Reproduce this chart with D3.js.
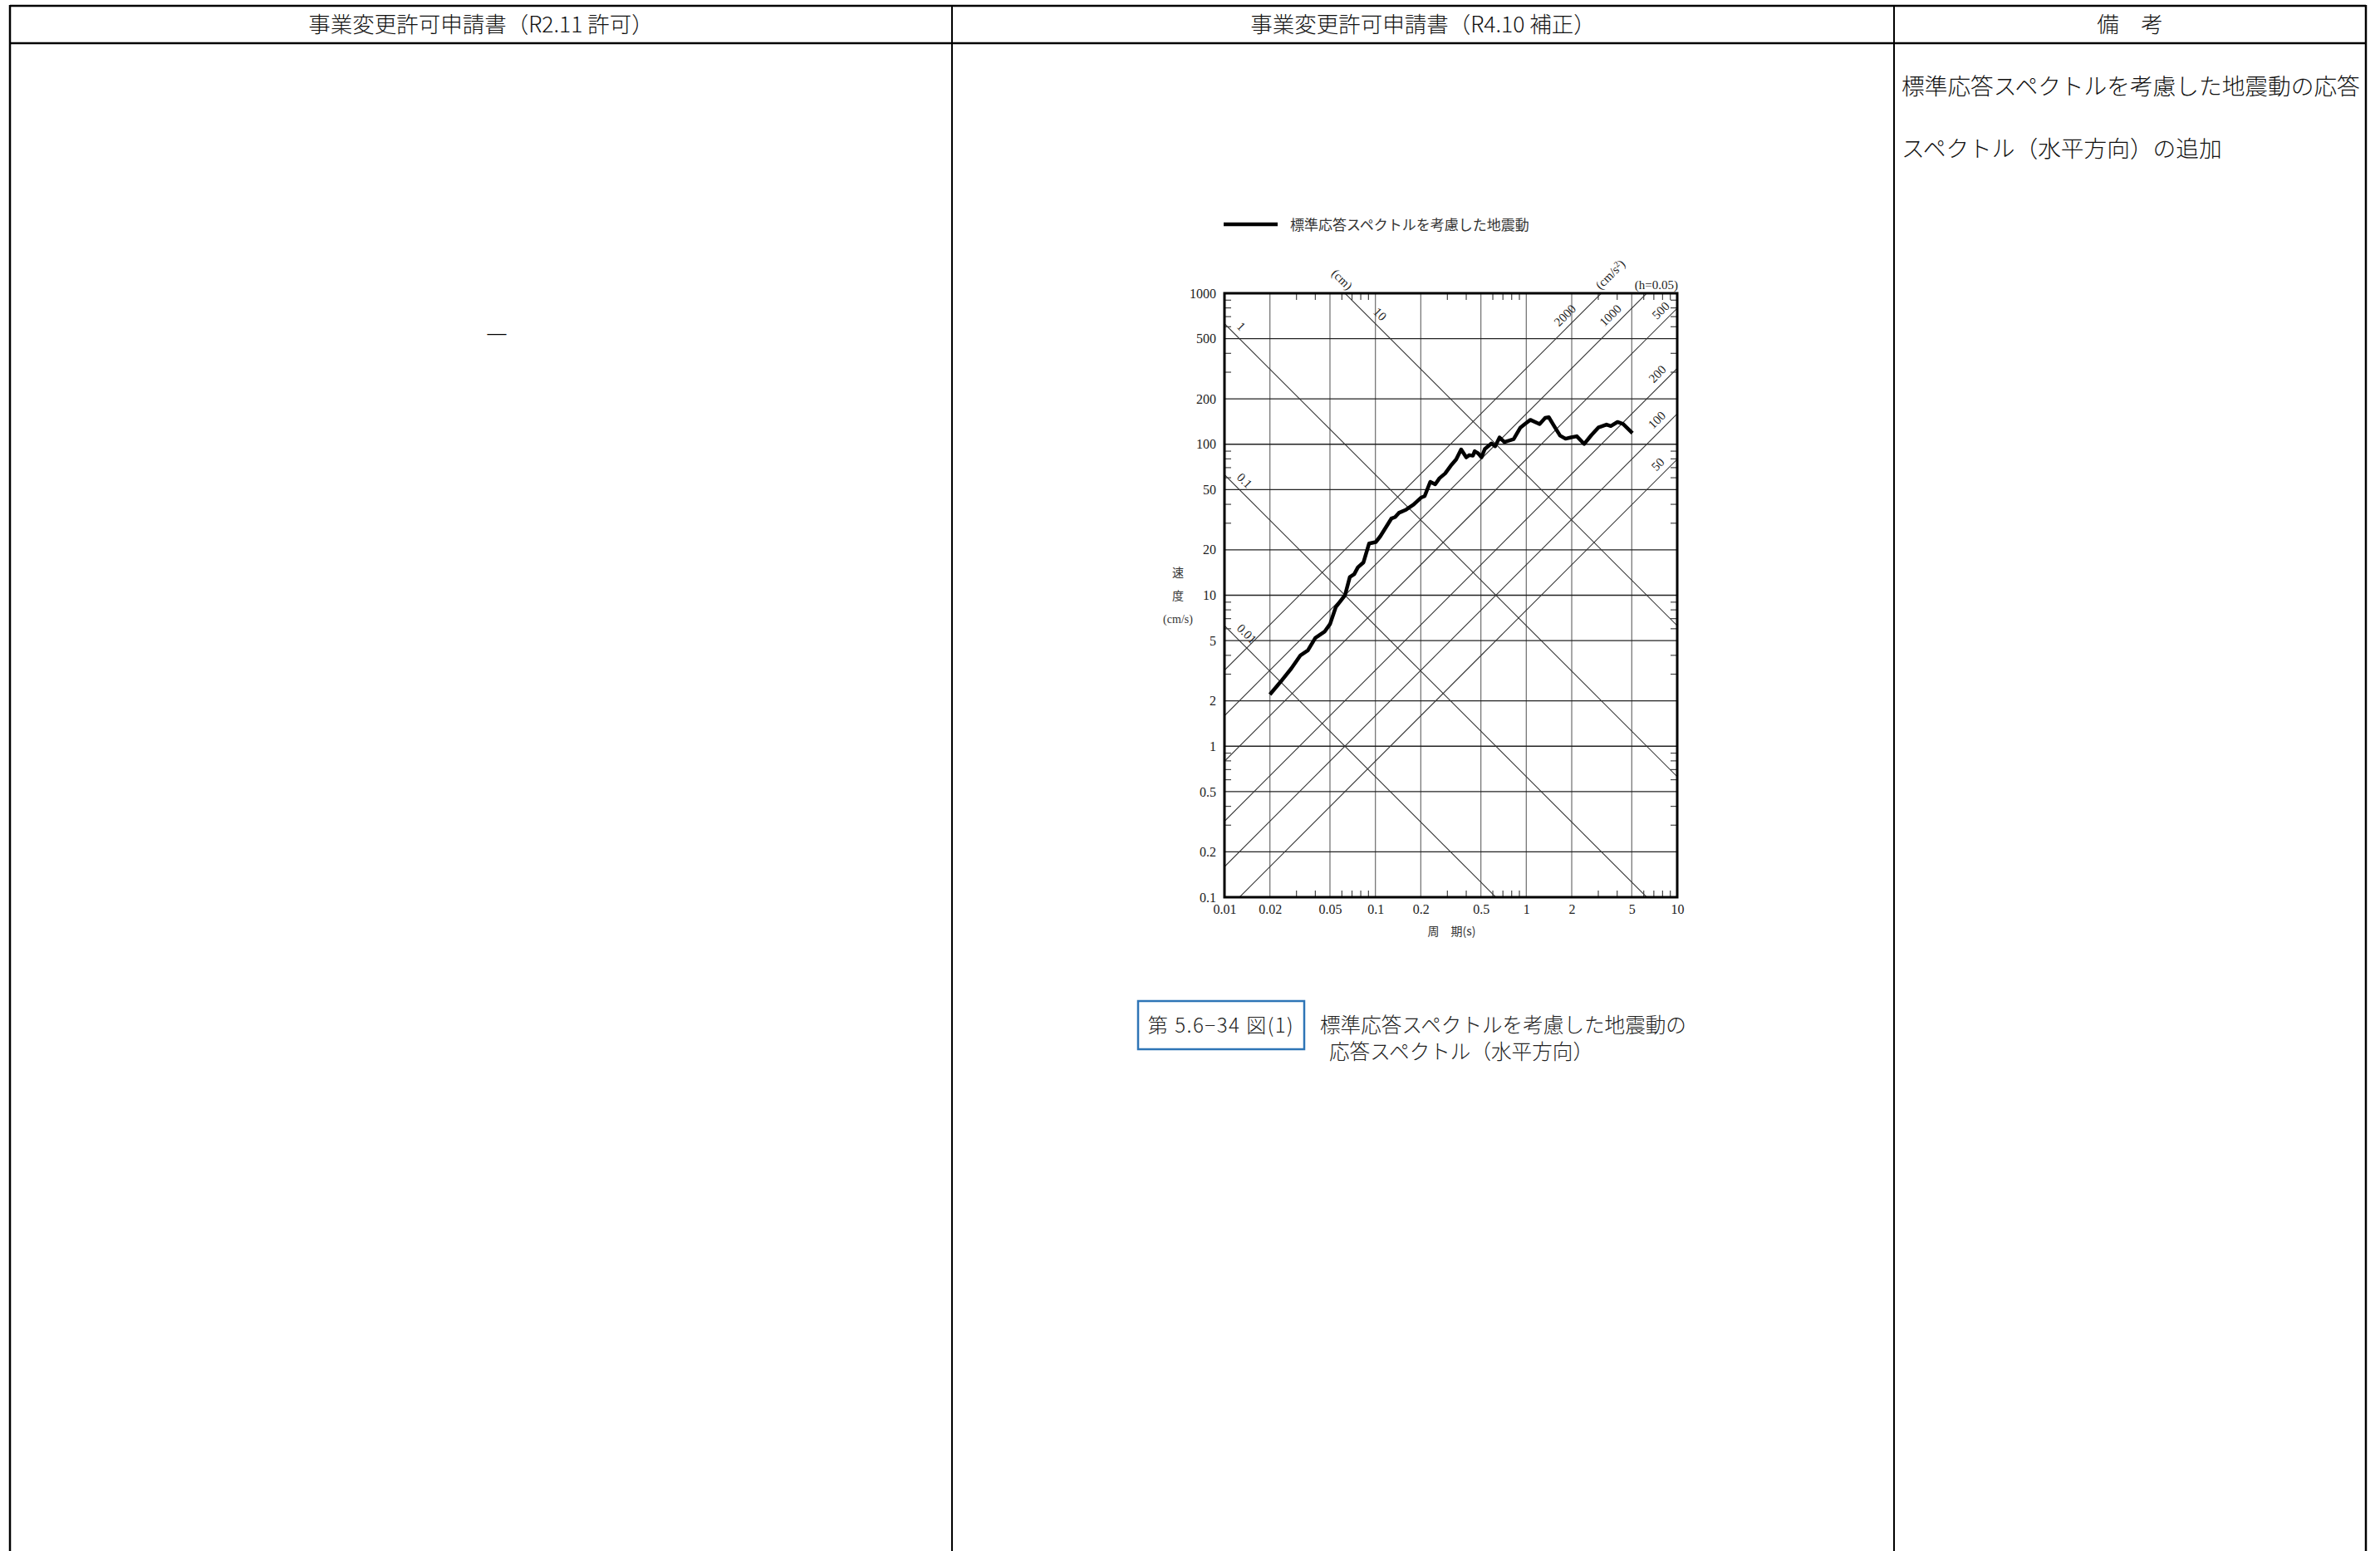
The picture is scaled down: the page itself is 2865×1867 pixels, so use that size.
<!DOCTYPE html>
<html>
<head>
<meta charset="utf-8">
<script src="https://cdn.jsdelivr.net/npm/d3@7"></script>
<style>
    body { margin: 0; background: #fff; }
    svg { display: block; }
    .cjk { font-family: "Noto Sans CJK JP", sans-serif; }
    .num { font-family: "Liberation Serif", serif; }
</style>
</head>
<body>
<svg id="page" width="2865" height="1867"></svg>
<script>
// ---- data ----
var periods = [0.02, 0.0234, 0.0277, 0.0319, 0.0357, 0.040, 0.046, 0.0501, 0.0546, 0.0629,
    0.0677, 0.0724, 0.0766, 0.0834, 0.0908, 0.1006, 0.1076, 0.1276, 0.135, 0.143,
    0.16, 0.179, 0.2006, 0.212, 0.231, 0.249, 0.266, 0.29, 0.316, 0.343,
    0.37, 0.40, 0.419, 0.443, 0.455, 0.48, 0.505, 0.531, 0.588, 0.622,
    0.665, 0.716, 0.824, 0.914, 0.977, 1.064, 1.225, 1.334, 1.41, 1.538,
    1.674, 1.82, 1.98, 2.16, 2.42, 2.70, 3.0, 3.40, 3.63, 4.02, 4.38, 5.05];
var velocities = [2.2, 2.65, 3.27, 4.0, 4.31, 5.22, 5.73, 6.45, 8.33, 10,
    13.2, 13.8, 15.3, 16.5, 22.0, 22.5, 24.5, 32.2, 32.9, 35.1,
    36.9, 39.8, 44.3, 45.3, 56.4, 54.3, 59.6, 64.1, 72.1, 79.3,
    92.3, 81.9, 84.7, 84, 89.9, 87, 81.9, 93, 101.3, 97,
    111, 103.5, 108, 129, 136, 145, 136, 149.6, 151, 130.6,
    114, 108.8, 111, 113, 100.4, 115, 129, 135, 132, 140.4, 136, 118.6];

var xTicks = [0.01, 0.02, 0.05, 0.1, 0.2, 0.5, 1, 2, 5, 10];
var yTicks = [0.1, 0.2, 0.5, 1, 2, 5, 10, 20, 50, 100, 200, 500, 1000];
var minorDigits = [3, 4, 6, 7, 8, 9];
var dispLines = [0.01, 0.1, 1, 10];          // cm
var accLines = [50, 100, 200, 500, 1000, 2000]; // cm/s2

var headers = ["事業変更許可申請書（R2.11 許可）", "事業変更許可申請書（R4.10 補正）", "備　考"];
var remarks = ["標準応答スペクトルを考慮した地震動の応答", "スペクトル（水平方向）の追加"];
var legendText = "標準応答スペクトルを考慮した地震動";
var captionNo = "第 5.6−34 図(1)";
var captionLines = ["標準応答スペクトルを考慮した地震動の", "応答スペクトル（水平方向）"];

// ---- layout ----
var svg = d3.select("#page");
var colX = [12, 1146, 2280, 2848],
    tableTop = 7,
    headBottom = 52;
var plot = { left: 1474, right: 2019, top: 353, bottom: 1080 };

// table frame
function drawTable() {
    var g = svg.append("g").attr("class", "table");
    g.append("line").attr("x1", colX[0]).attr("x2", colX[3]).attr("y1", tableTop).attr("y2", tableTop)
        .style("stroke", "#000").style("stroke-width", 2.5);
    g.append("line").attr("x1", colX[0]).attr("x2", colX[3]).attr("y1", headBottom).attr("y2", headBottom)
        .style("stroke", "#000").style("stroke-width", 2.5);
    colX.forEach(function(x, i) {
        g.append("line").attr("x1", x).attr("x2", x).attr("y1", tableTop - 1).attr("y2", 1867)
            .style("stroke", "#000").style("stroke-width", (i == 0 || i == 3) ? 2.5 : 2);
    });
    headers.forEach(function(h, i) {
        g.append("text")
            .attr("class", "cjk")
            .attr("x", (colX[i] + colX[i + 1]) / 2)
            .attr("y", 39)
            .attr("text-anchor", "middle")
            .style("font-size", "26.5px")
            .style("font-weight", 300)
            .style("fill", "#111")
            .text(h);
    });
    // no-entry mark in left column
    g.append("text")
        .attr("class", "cjk")
        .attr("x", 598).attr("y", 413)
        .attr("text-anchor", "middle")
        .style("font-size", "27px")
        .text("―");
    remarks.forEach(function(r, i) {
        g.append("text")
            .attr("class", "cjk")
            .attr("x", 2289).attr("y", 114 + i * 75)
            .style("font-size", "27.7px")
            .style("font-weight", 300)
            .style("fill", "#111")
            .text(r);
    });
}

function drawChart() {
    var x = d3.scaleLog().domain([0.01, 10]).range([plot.left, plot.right]);
    var y = d3.scaleLog().domain([0.1, 1000]).range([plot.bottom, plot.top]);
    var g = svg.append("g").attr("class", "chart");

    g.append("clipPath").attr("id", "plotClip")
        .append("rect")
        .attr("x", plot.left).attr("y", plot.top)
        .attr("width", plot.right - plot.left).attr("height", plot.bottom - plot.top);

    // grid
    g.selectAll("line.vgrid").data(xTicks.slice(1, -1)).enter().append("line")
        .attr("class", "vgrid")
        .attr("x1", function(d) { return x(d); }).attr("x2", function(d) { return x(d); })
        .attr("y1", plot.top).attr("y2", plot.bottom)
        .style("stroke", "#777").style("stroke-width", 1.3);
    g.selectAll("line.hgrid").data(yTicks.slice(1, -1)).enter().append("line")
        .attr("class", "hgrid")
        .attr("x1", plot.left).attr("x2", plot.right)
        .attr("y1", function(d) { return y(d); }).attr("y2", function(d) { return y(d); })
        .style("stroke", "#222").style("stroke-width", 1.3);

    // tripartite lines
    var diag = g.append("g").attr("clip-path", "url(#plotClip)");
    diag.selectAll("line.disp").data(dispLines).enter().append("line")
        .attr("class", "disp")
        .attr("x1", x(0.01)).attr("x2", x(10))
        .attr("y1", function(d) { return y(2 * Math.PI * d / 0.01); })
        .attr("y2", function(d) { return y(2 * Math.PI * d / 10); })
        .style("stroke", "#333").style("stroke-width", 1.1);
    diag.selectAll("line.acc").data(accLines).enter().append("line")
        .attr("class", "acc")
        .attr("x1", x(0.01)).attr("x2", x(10))
        .attr("y1", function(d) { return y(d * 0.01 / (2 * Math.PI)); })
        .attr("y2", function(d) { return y(d * 10 / (2 * Math.PI)); })
        .style("stroke", "#333").style("stroke-width", 1.1);

    // minor ticks, inside on all four sides
    var minorX = [], minorY = [];
    [0.01, 0.1, 1].forEach(function(b) { minorDigits.forEach(function(m) { minorX.push(b * m); }); });
    [0.1, 1, 10, 100].forEach(function(b) { minorDigits.forEach(function(m) { minorY.push(b * m); }); });
    var tl = 8;
    minorX.forEach(function(v) {
        g.append("line").attr("x1", x(v)).attr("x2", x(v)).attr("y1", plot.bottom).attr("y2", plot.bottom - tl)
            .style("stroke", "#444").style("stroke-width", 1.2);
        g.append("line").attr("x1", x(v)).attr("x2", x(v)).attr("y1", plot.top).attr("y2", plot.top + tl)
            .style("stroke", "#444").style("stroke-width", 1.2);
    });
    minorY.forEach(function(v) {
        g.append("line").attr("x1", plot.left).attr("x2", plot.left + tl).attr("y1", y(v)).attr("y2", y(v))
            .style("stroke", "#444").style("stroke-width", 1.2);
        g.append("line").attr("x1", plot.right).attr("x2", plot.right - tl).attr("y1", y(v)).attr("y2", y(v))
            .style("stroke", "#444").style("stroke-width", 1.2);
    });

    // frame
    g.append("rect")
        .attr("x", plot.left).attr("y", plot.top)
        .attr("width", plot.right - plot.left).attr("height", plot.bottom - plot.top)
        .style("fill", "none").style("stroke", "#000").style("stroke-width", 3);

    // axes (labels only)
    var fmt = function(d) { return String(d); };
    var xAxis = g.append("g")
        .attr("transform", "translate(0," + (plot.bottom + 6) + ")")
        .call(d3.axisBottom(x).tickValues(xTicks).tickFormat(fmt).tickSize(0));
    var yAxis = g.append("g")
        .attr("transform", "translate(" + (plot.left - 7) + ",0)")
        .call(d3.axisLeft(y).tickValues(yTicks).tickFormat(fmt).tickSize(0));
    [xAxis, yAxis].forEach(function(a) {
        a.select(".domain").remove();
        a.selectAll("text")
            .attr("class", "num")
            .style("font-size", "16px")
            .style("fill", "#222");
    });

    // axis titles
    g.append("text").attr("class", "cjk")
        .attr("x", x(0.32)).attr("y", 1126)
        .attr("text-anchor", "middle")
        .style("font-size", "14px").style("fill", "#333")
        .text("周　期(s)");
    ["速", "度", "(cm/s)"].forEach(function(t, i) {
        g.append("text").attr("class", i < 2 ? "cjk" : "num")
            .attr("x", 1418).attr("y", 694 + i * 28)
            .attr("text-anchor", "middle")
            .style("font-size", "14px").style("fill", "#333")
            .text(t);
    });

    // line labels
    var dispLabelT = { 0.01: 0.0112, 0.1: 0.0112, 1: 0.0112, 10: 0.09 };
    dispLines.forEach(function(d) {
        var t = dispLabelT[d];
        var px = x(t) + 5, py = y(2 * Math.PI * d / t) - 5;
        g.append("text").attr("class", "num")
            .attr("transform", "translate(" + px + "," + py + ") rotate(45)")
            .style("font-size", "15px").style("fill", "#222")
            .text(d);
    });
    var accLabelV = { 2000: 640, 1000: 640, 500: 690, 200: 262, 100: 130, 50: 66 };
    accLines.forEach(function(a) {
        var v = accLabelV[a];
        var t = v * 2 * Math.PI / a;
        var px = x(t) - 5, py = y(v) - 5;
        g.append("text").attr("class", "num")
            .attr("transform", "translate(" + px + "," + py + ") rotate(-45)")
            .attr("text-anchor", "middle")
            .style("font-size", "15px").style("fill", "#222")
            .text(a);
    });
    g.append("text").attr("class", "num")
        .attr("transform", "translate(" + 1602 + "," + 330 + ") rotate(45)")
        .style("font-size", "15px").style("fill", "#222")
        .text("(cm)");
    g.append("text").attr("class", "num")
        .attr("transform", "translate(" + 1942 + "," + 334 + ") rotate(-45)")
        .attr("text-anchor", "middle")
        .style("font-size", "15px").style("fill", "#222")
        .html("(cm/s<tspan dy='-5' style='font-size:10px'>2</tspan><tspan dy='5'>)</tspan>");
    g.append("text").attr("class", "num")
        .attr("x", plot.right + 1).attr("y", 348)
        .attr("text-anchor", "end")
        .style("font-size", "15px").style("fill", "#222")
        .text("(h=0.05)");

    // spectrum
    var pts = periods.map(function(p, i) { return [p, velocities[i]]; });
    g.append("path")
        .datum(pts)
        .attr("d", d3.line().x(function(d) { return x(d[0]); }).y(function(d) { return y(d[1]); }))
        .style("fill", "none").style("stroke", "#000").style("stroke-width", 4.5)
        .style("stroke-linejoin", "round");

    // legend
    g.append("line").attr("x1", 1473).attr("x2", 1538).attr("y1", 270).attr("y2", 270)
        .style("stroke", "#000").style("stroke-width", 4.5);
    g.append("text").attr("class", "cjk")
        .attr("x", 1553).attr("y", 277)
        .style("font-size", "17px").style("fill", "#333")
        .text(legendText);
}

function drawCaption() {
    var g = svg.append("g").attr("class", "caption");
    g.append("rect")
        .attr("x", 1370).attr("y", 1205).attr("width", 200).attr("height", 58)
        .style("fill", "none").style("stroke", "#2e75b6").style("stroke-width", 2.5);
    g.append("text").attr("class", "cjk")
        .attr("x", 1470).attr("y", 1243)
        .attr("text-anchor", "middle")
        .style("font-size", "24px").style("font-weight", 300)
        .style("letter-spacing", "1.5px").style("fill", "#222")
        .text(captionNo);
    captionLines.forEach(function(c, i) {
        g.append("text").attr("class", "cjk")
            .attr("x", i == 0 ? 1589 : 1600).attr("y", 1243 + i * 32)
            .style("font-size", "24.6px").style("font-weight", 300)
            .style("fill", "#222")
            .text(c);
    });
}

drawTable();
drawChart();
drawCaption();
</script>
</body>
</html>
